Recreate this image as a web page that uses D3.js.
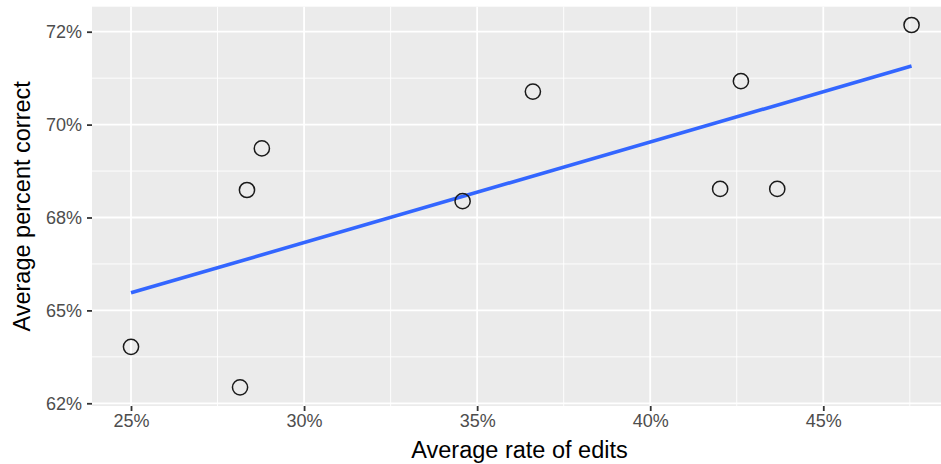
<!DOCTYPE html>
<html>
<head>
<meta charset="utf-8">
<script src="https://cdn.jsdelivr.net/npm/d3@7"></script>
<style>
  html, body { margin: 0; padding: 0; background: #ffffff; }
  svg { display: block; }
  text { font-family: "Liberation Sans", Arial, Helvetica, sans-serif; }
</style>
</head>
<body>
<svg id="chart" width="941" height="464"></svg>
<script>
// Average rate of edits vs. average percent correct, one point per group
const editRate = [0.2500, 0.2815, 0.2835, 0.2878, 0.3458, 0.3661, 0.4202, 0.4262, 0.4367, 0.4755];
const pctCorrect = [0.6402, 0.6293, 0.6824, 0.6936, 0.6794, 0.7089, 0.6827, 0.7117, 0.6827, 0.7268];

const xTicks = [0.25, 0.30, 0.35, 0.40, 0.45];
const xTickLabels = ["25%", "30%", "35%", "40%", "45%"];
const xMinor = [0.275, 0.325, 0.375, 0.425, 0.475];
const yTicks = [0.625, 0.65, 0.675, 0.70, 0.725];
const yTickLabels = ["62%", "65%", "68%", "70%", "72%"];
const yMinor = [0.6375, 0.6625, 0.6875, 0.7125];

const xTitle = "Average rate of edits";
const yTitle = "Average percent correct";

const panel = { left: 92, right: 947, top: 6.7, bottom: 406 };

const x = d3.scaleLinear()
  .domain([0.23873, 0.48574])
  .range([panel.left, panel.right]);
const y = d3.scaleLinear()
  .domain([0.62427, 0.73173])
  .range([panel.bottom, panel.top]);

const svg = d3.select("#chart");

// panel background
svg.append("rect")
  .attr("x", panel.left).attr("y", panel.top)
  .attr("width", panel.right - panel.left)
  .attr("height", panel.bottom - panel.top)
  .attr("fill", "#EBEBEB");

const grid = svg.append("g");
// minor grid
grid.selectAll(".xminor").data(xMinor).join("line")
  .attr("x1", d => x(d)).attr("x2", d => x(d))
  .attr("y1", panel.top).attr("y2", panel.bottom)
  .attr("stroke", "#ffffff").attr("stroke-width", 0.9);
grid.selectAll(".yminor").data(yMinor).join("line")
  .attr("x1", panel.left).attr("x2", panel.right)
  .attr("y1", d => y(d)).attr("y2", d => y(d))
  .attr("stroke", "#ffffff").attr("stroke-width", 0.9);
// major grid
grid.selectAll(".xmajor").data(xTicks).join("line")
  .attr("x1", d => x(d)).attr("x2", d => x(d))
  .attr("y1", panel.top).attr("y2", panel.bottom)
  .attr("stroke", "#ffffff").attr("stroke-width", 1.8);
grid.selectAll(".ymajor").data(yTicks).join("line")
  .attr("x1", panel.left).attr("x2", panel.right)
  .attr("y1", d => y(d)).attr("y2", d => y(d))
  .attr("stroke", "#ffffff").attr("stroke-width", 1.8);

// axes
const xAxis = d3.axisBottom(x)
  .tickValues(xTicks)
  .tickFormat((d, i) => xTickLabels[i])
  .tickSizeInner(5).tickSizeOuter(0).tickPadding(3);
const yAxis = d3.axisLeft(y)
  .tickValues(yTicks)
  .tickFormat((d, i) => yTickLabels[i])
  .tickSizeInner(5).tickSizeOuter(0).tickPadding(5);

const gx = svg.append("g").attr("transform", `translate(0,${panel.bottom})`).call(xAxis);
const gy = svg.append("g").attr("transform", `translate(${panel.left},0)`).call(yAxis);
[gx, gy].forEach(g => {
  g.select(".domain").remove();
  g.selectAll(".tick line").attr("stroke", "#333333").attr("stroke-width", 1.8);
  g.selectAll(".tick text")
    .attr("fill", "#4D4D4D")
    .attr("font-size", 18)
    .attr("font-family", "'Liberation Sans', Arial, sans-serif");
});

// least-squares fit line
const n = editRate.length;
const mx = d3.mean(editRate), my = d3.mean(pctCorrect);
let sxy = 0, sxx = 0;
for (let i = 0; i < n; i++) {
  sxy += (editRate[i] - mx) * (pctCorrect[i] - my);
  sxx += (editRate[i] - mx) ** 2;
}
const slope = sxy / sxx;
const intercept = my - slope * mx;
const [xMin, xMax] = d3.extent(editRate);
const fit = [xMin, xMax].map(v => [v, intercept + slope * v]);

svg.append("path")
  .datum(fit)
  .attr("d", d3.line().x(d => x(d[0])).y(d => y(d[1])))
  .attr("fill", "none")
  .attr("stroke", "#3366FF")
  .attr("stroke-width", 3.6);

// points
svg.append("g").selectAll("circle")
  .data(editRate.map((v, i) => [v, pctCorrect[i]]))
  .join("circle")
  .attr("cx", d => x(d[0]))
  .attr("cy", d => y(d[1]))
  .attr("r", 7.6)
  .attr("fill", "none")
  .attr("stroke", "#1a1a1a")
  .attr("stroke-width", 1.5);

// axis titles
svg.append("text")
  .attr("x", (panel.left + panel.right) / 2)
  .attr("y", 458)
  .attr("text-anchor", "middle")
  .attr("font-size", 23.5)
  .attr("fill", "#000000")
  .text(xTitle);

svg.append("text")
  .attr("transform", `translate(30,${(panel.top + panel.bottom) / 2}) rotate(-90)`)
  .attr("text-anchor", "middle")
  .attr("font-size", 23.5)
  .attr("fill", "#000000")
  .text(yTitle);
</script>
</body>
</html>
